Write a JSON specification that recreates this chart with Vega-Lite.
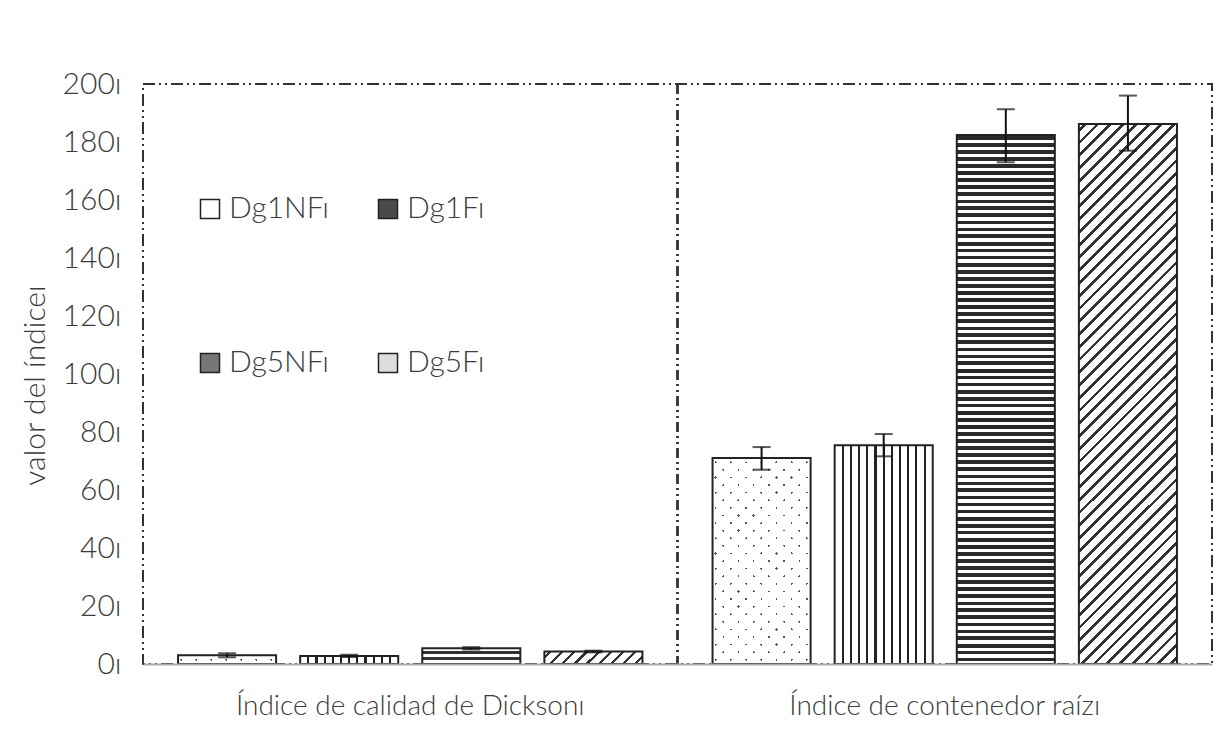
{
"$schema":"https://vega.github.io/schema/vega-lite/v6.json",
"width":1069,"height":580,"autosize":"none",
"padding":{"left":143,"top":84,"right":4,"bottom":68},
"background":"#ffffff",
"config":{"font":"Lato","view":{"stroke":"#333333","strokeWidth":2,"strokeDash":[12,4,2,4,2,4]}},
"data":{"values":[
{"indice":"Índice de calidad de Dickson","grupo":"D","serie":"Dg1NF","valor":3.0,"inf":2.3,"sup":3.7},
{"indice":"Índice de calidad de Dickson","grupo":"D","serie":"Dg1F","valor":2.8,"inf":2.4,"sup":3.2},
{"indice":"Índice de calidad de Dickson","grupo":"D","serie":"Dg5NF","valor":5.4,"inf":5.0,"sup":5.8},
{"indice":"Índice de calidad de Dickson","grupo":"D","serie":"Dg5F","valor":4.3,"inf":4.0,"sup":4.6},
{"indice":"Índice de contenedor raíz","grupo":"R","serie":"Dg1NF","valor":71.0,"inf":67.0,"sup":74.8},
{"indice":"Índice de contenedor raíz","grupo":"R","serie":"Dg1F","valor":75.4,"inf":71.6,"sup":79.3},
{"indice":"Índice de contenedor raíz","grupo":"R","serie":"Dg5NF","valor":182.4,"inf":173.0,"sup":191.3},
{"indice":"Índice de contenedor raíz","grupo":"R","serie":"Dg5F","valor":186.2,"inf":177.0,"sup":196.0}
]},
"layer":[
{"mark":{"type":"rule","stroke":"#333333","strokeWidth":1.5,"strokeDash":[10,4,2,4,2,4]},
 "encoding":{"x":{"datum":"Índice de contenedor raíz","type":"nominal","bandPosition":0}}},
{"encoding":{
  "x":{"field":"indice","type":"nominal","title":null,
       "scale":{"domain":["Índice de calidad de Dickson","Índice de contenedor raíz"],"paddingInner":0,"paddingOuter":0},
       "axis":{"bandPosition":0.5,"zindex":1,"labelAngle":0,"labelAlign":"center","ticks":false,"domainColor":"#aaaaaa","domainWidth":2,"labelFontSize":28,"labelColor":"#3c3c3c","labelFontWeight":300,"labelPadding":42,"labelExpr":"datum.label + 'ı'","labelLimit":0}},
  "xOffset":{"field":"serie","type":"nominal","scale":{"domain":["Dg1NF","Dg1F","Dg5NF","Dg5F"],"paddingInner":0.197,"paddingOuter":0.287}},
  "y":{"field":"valor","type":"quantitative","title":"valor del índiceı",
       "scale":{"domain":[0,200],"nice":false},
       "axis":{"values":[0,20,40,60,80,100,120,140,160,180,200],"ticks":false,"domain":false,"grid":false,"labelFontSize":30,"labelColor":"#3c3c3c","labelFontWeight":300,"labelPadding":22,"labelExpr":"datum.label + 'ı'","titleFontSize":30,"titleFontWeight":300,"titleColor":"#3c3c3c","titlePadding":12,"titleY":301}}
 },
 "layer":[
  {"mark":{"type":"bar","opacity":0},
   "encoding":{"fill":{"field":"serie","type":"nominal","scale":{"domain":["Dg1NF","Dg1F","Dg5NF","Dg5F"],"range":["#ffffff","#4a4a4a","#777777","#dddddd"]},
     "legend":{"title":null,"orient":"none","direction":"horizontal","legendX":52,"legendY":110,"columns":2,"columnPadding":43,"rowPadding":124,"gridAlign":"all","symbolType":"square","symbolSize":361,"symbolStrokeColor":"#222222","symbolStrokeWidth":1.5,"symbolOpacity":1,"labelFontSize":30,"labelFontWeight":300,"labelColor":"#3c3c3c","labelOffset":4,"labelExpr":"datum.label + 'ı'"}}}},
  {"transform":[{"filter":"datum.serie === 'Dg1NF' && datum.grupo === 'D'"}],
   "mark":{"type":"bar","fill":{"gradient":"linear","x1":0,"y1":0,"x2":1.083,"y2":0.0994,"stops":[
    {"offset":0,"color":"#fff"},
    {"offset":0.06,"color":"#fff"},{"offset":0.06,"color":"#555"},{"offset":0.083,"color":"#555"},{"offset":0.083,"color":"#fff"},
    {"offset":0.20,"color":"#fff"},{"offset":0.20,"color":"#555"},{"offset":0.223,"color":"#555"},{"offset":0.223,"color":"#fff"},
    {"offset":0.34,"color":"#fff"},{"offset":0.34,"color":"#555"},{"offset":0.363,"color":"#555"},{"offset":0.363,"color":"#fff"},
    {"offset":0.48,"color":"#fff"},{"offset":0.48,"color":"#555"},{"offset":0.503,"color":"#555"},{"offset":0.503,"color":"#fff"},
    {"offset":0.62,"color":"#fff"},{"offset":0.62,"color":"#555"},{"offset":0.643,"color":"#555"},{"offset":0.643,"color":"#fff"},
    {"offset":0.76,"color":"#fff"},{"offset":0.76,"color":"#555"},{"offset":0.783,"color":"#555"},{"offset":0.783,"color":"#fff"},
    {"offset":0.90,"color":"#fff"},{"offset":0.90,"color":"#555"},{"offset":0.923,"color":"#555"},{"offset":0.923,"color":"#fff"},
    {"offset":1,"color":"#fff"}]}}},
  {"transform":[{"filter":"datum.serie === 'Dg1NF' && datum.grupo === 'D'"}],
   "mark":{"type":"bar","stroke":"#222222","strokeWidth":2,"fill":{"gradient":"linear","x1":0,"y1":1,"x2":1.083,"y2":0.9006,"stops":[
    {"offset":0,"color":"#fff"},
    {"offset":0.06,"color":"#fff"},{"offset":0.06,"color":"rgba(255,255,255,0)"},{"offset":0.083,"color":"rgba(255,255,255,0)"},{"offset":0.083,"color":"#fff"},
    {"offset":0.20,"color":"#fff"},{"offset":0.20,"color":"rgba(255,255,255,0)"},{"offset":0.223,"color":"rgba(255,255,255,0)"},{"offset":0.223,"color":"#fff"},
    {"offset":0.34,"color":"#fff"},{"offset":0.34,"color":"rgba(255,255,255,0)"},{"offset":0.363,"color":"rgba(255,255,255,0)"},{"offset":0.363,"color":"#fff"},
    {"offset":0.48,"color":"#fff"},{"offset":0.48,"color":"rgba(255,255,255,0)"},{"offset":0.503,"color":"rgba(255,255,255,0)"},{"offset":0.503,"color":"#fff"},
    {"offset":0.62,"color":"#fff"},{"offset":0.62,"color":"rgba(255,255,255,0)"},{"offset":0.643,"color":"rgba(255,255,255,0)"},{"offset":0.643,"color":"#fff"},
    {"offset":0.76,"color":"#fff"},{"offset":0.76,"color":"rgba(255,255,255,0)"},{"offset":0.783,"color":"rgba(255,255,255,0)"},{"offset":0.783,"color":"#fff"},
    {"offset":0.90,"color":"#fff"},{"offset":0.90,"color":"rgba(255,255,255,0)"},{"offset":0.923,"color":"rgba(255,255,255,0)"},{"offset":0.923,"color":"#fff"},
    {"offset":1,"color":"#fff"}]}}},
  {"transform":[{"filter":"datum.serie === 'Dg1NF' && datum.grupo === 'R'"}],
   "mark":{"type":"bar","fill":{"gradient":"linear","x1":0,"y1":0,"x2":0.5725,"y2":1.2034,"stops":[
    {"offset":0,"color":"#fff"},
    {"offset":0.02,"color":"#fff"},{"offset":0.02,"color":"#555"},{"offset":0.028,"color":"#555"},{"offset":0.028,"color":"#fff"},
    {"offset":0.07,"color":"#fff"},{"offset":0.07,"color":"#555"},{"offset":0.078,"color":"#555"},{"offset":0.078,"color":"#fff"},
    {"offset":0.12,"color":"#fff"},{"offset":0.12,"color":"#555"},{"offset":0.128,"color":"#555"},{"offset":0.128,"color":"#fff"},
    {"offset":0.17,"color":"#fff"},{"offset":0.17,"color":"#555"},{"offset":0.178,"color":"#555"},{"offset":0.178,"color":"#fff"},
    {"offset":0.22,"color":"#fff"},{"offset":0.22,"color":"#555"},{"offset":0.228,"color":"#555"},{"offset":0.228,"color":"#fff"},
    {"offset":0.27,"color":"#fff"},{"offset":0.27,"color":"#555"},{"offset":0.278,"color":"#555"},{"offset":0.278,"color":"#fff"},
    {"offset":0.32,"color":"#fff"},{"offset":0.32,"color":"#555"},{"offset":0.328,"color":"#555"},{"offset":0.328,"color":"#fff"},
    {"offset":0.37,"color":"#fff"},{"offset":0.37,"color":"#555"},{"offset":0.378,"color":"#555"},{"offset":0.378,"color":"#fff"},
    {"offset":0.42,"color":"#fff"},{"offset":0.42,"color":"#555"},{"offset":0.428,"color":"#555"},{"offset":0.428,"color":"#fff"},
    {"offset":0.47,"color":"#fff"},{"offset":0.47,"color":"#555"},{"offset":0.478,"color":"#555"},{"offset":0.478,"color":"#fff"},
    {"offset":0.52,"color":"#fff"},{"offset":0.52,"color":"#555"},{"offset":0.528,"color":"#555"},{"offset":0.528,"color":"#fff"},
    {"offset":0.57,"color":"#fff"},{"offset":0.57,"color":"#555"},{"offset":0.578,"color":"#555"},{"offset":0.578,"color":"#fff"},
    {"offset":0.62,"color":"#fff"},{"offset":0.62,"color":"#555"},{"offset":0.628,"color":"#555"},{"offset":0.628,"color":"#fff"},
    {"offset":0.67,"color":"#fff"},{"offset":0.67,"color":"#555"},{"offset":0.678,"color":"#555"},{"offset":0.678,"color":"#fff"},
    {"offset":0.72,"color":"#fff"},{"offset":0.72,"color":"#555"},{"offset":0.728,"color":"#555"},{"offset":0.728,"color":"#fff"},
    {"offset":0.77,"color":"#fff"},{"offset":0.77,"color":"#555"},{"offset":0.778,"color":"#555"},{"offset":0.778,"color":"#fff"},
    {"offset":0.82,"color":"#fff"},{"offset":0.82,"color":"#555"},{"offset":0.828,"color":"#555"},{"offset":0.828,"color":"#fff"},
    {"offset":0.87,"color":"#fff"},{"offset":0.87,"color":"#555"},{"offset":0.878,"color":"#555"},{"offset":0.878,"color":"#fff"},
    {"offset":0.92,"color":"#fff"},{"offset":0.92,"color":"#555"},{"offset":0.928,"color":"#555"},{"offset":0.928,"color":"#fff"},
    {"offset":0.97,"color":"#fff"},{"offset":0.97,"color":"#555"},{"offset":0.978,"color":"#555"},{"offset":0.978,"color":"#fff"},
    {"offset":1,"color":"#fff"}]}}},
  {"transform":[{"filter":"datum.serie === 'Dg1NF' && datum.grupo === 'R'"}],
   "mark":{"type":"bar","stroke":"#222222","strokeWidth":2,"fill":{"gradient":"linear","x1":0,"y1":1,"x2":0.5725,"y2":-0.2034,"stops":[
    {"offset":0,"color":"#fff"},
    {"offset":0.02,"color":"#fff"},{"offset":0.02,"color":"rgba(255,255,255,0)"},{"offset":0.028,"color":"rgba(255,255,255,0)"},{"offset":0.028,"color":"#fff"},
    {"offset":0.07,"color":"#fff"},{"offset":0.07,"color":"rgba(255,255,255,0)"},{"offset":0.078,"color":"rgba(255,255,255,0)"},{"offset":0.078,"color":"#fff"},
    {"offset":0.12,"color":"#fff"},{"offset":0.12,"color":"rgba(255,255,255,0)"},{"offset":0.128,"color":"rgba(255,255,255,0)"},{"offset":0.128,"color":"#fff"},
    {"offset":0.17,"color":"#fff"},{"offset":0.17,"color":"rgba(255,255,255,0)"},{"offset":0.178,"color":"rgba(255,255,255,0)"},{"offset":0.178,"color":"#fff"},
    {"offset":0.22,"color":"#fff"},{"offset":0.22,"color":"rgba(255,255,255,0)"},{"offset":0.228,"color":"rgba(255,255,255,0)"},{"offset":0.228,"color":"#fff"},
    {"offset":0.27,"color":"#fff"},{"offset":0.27,"color":"rgba(255,255,255,0)"},{"offset":0.278,"color":"rgba(255,255,255,0)"},{"offset":0.278,"color":"#fff"},
    {"offset":0.32,"color":"#fff"},{"offset":0.32,"color":"rgba(255,255,255,0)"},{"offset":0.328,"color":"rgba(255,255,255,0)"},{"offset":0.328,"color":"#fff"},
    {"offset":0.37,"color":"#fff"},{"offset":0.37,"color":"rgba(255,255,255,0)"},{"offset":0.378,"color":"rgba(255,255,255,0)"},{"offset":0.378,"color":"#fff"},
    {"offset":0.42,"color":"#fff"},{"offset":0.42,"color":"rgba(255,255,255,0)"},{"offset":0.428,"color":"rgba(255,255,255,0)"},{"offset":0.428,"color":"#fff"},
    {"offset":0.47,"color":"#fff"},{"offset":0.47,"color":"rgba(255,255,255,0)"},{"offset":0.478,"color":"rgba(255,255,255,0)"},{"offset":0.478,"color":"#fff"},
    {"offset":0.52,"color":"#fff"},{"offset":0.52,"color":"rgba(255,255,255,0)"},{"offset":0.528,"color":"rgba(255,255,255,0)"},{"offset":0.528,"color":"#fff"},
    {"offset":0.57,"color":"#fff"},{"offset":0.57,"color":"rgba(255,255,255,0)"},{"offset":0.578,"color":"rgba(255,255,255,0)"},{"offset":0.578,"color":"#fff"},
    {"offset":0.62,"color":"#fff"},{"offset":0.62,"color":"rgba(255,255,255,0)"},{"offset":0.628,"color":"rgba(255,255,255,0)"},{"offset":0.628,"color":"#fff"},
    {"offset":0.67,"color":"#fff"},{"offset":0.67,"color":"rgba(255,255,255,0)"},{"offset":0.678,"color":"rgba(255,255,255,0)"},{"offset":0.678,"color":"#fff"},
    {"offset":0.72,"color":"#fff"},{"offset":0.72,"color":"rgba(255,255,255,0)"},{"offset":0.728,"color":"rgba(255,255,255,0)"},{"offset":0.728,"color":"#fff"},
    {"offset":0.77,"color":"#fff"},{"offset":0.77,"color":"rgba(255,255,255,0)"},{"offset":0.778,"color":"rgba(255,255,255,0)"},{"offset":0.778,"color":"#fff"},
    {"offset":0.82,"color":"#fff"},{"offset":0.82,"color":"rgba(255,255,255,0)"},{"offset":0.828,"color":"rgba(255,255,255,0)"},{"offset":0.828,"color":"#fff"},
    {"offset":0.87,"color":"#fff"},{"offset":0.87,"color":"rgba(255,255,255,0)"},{"offset":0.878,"color":"rgba(255,255,255,0)"},{"offset":0.878,"color":"#fff"},
    {"offset":0.92,"color":"#fff"},{"offset":0.92,"color":"rgba(255,255,255,0)"},{"offset":0.928,"color":"rgba(255,255,255,0)"},{"offset":0.928,"color":"#fff"},
    {"offset":0.97,"color":"#fff"},{"offset":0.97,"color":"rgba(255,255,255,0)"},{"offset":0.978,"color":"rgba(255,255,255,0)"},{"offset":0.978,"color":"#fff"},
    {"offset":1,"color":"#fff"}]}}},
  {"transform":[{"filter":"datum.serie === 'Dg1F'"}],
   "mark":{"type":"bar","stroke":"#222222","strokeWidth":2,"fill":{"gradient":"linear","x1":0,"y1":0,"x2":1,"y2":0,"stops":[
    {"offset":0,"color":"#fff"},
    {"offset":0.073,"color":"#fff"},{"offset":0.073,"color":"#222"},{"offset":0.094,"color":"#222"},{"offset":0.094,"color":"#fff"},
    {"offset":0.156,"color":"#fff"},{"offset":0.156,"color":"#222"},{"offset":0.177,"color":"#222"},{"offset":0.177,"color":"#fff"},
    {"offset":0.240,"color":"#fff"},{"offset":0.240,"color":"#222"},{"offset":0.260,"color":"#222"},{"offset":0.260,"color":"#fff"},
    {"offset":0.323,"color":"#fff"},{"offset":0.323,"color":"#222"},{"offset":0.344,"color":"#222"},{"offset":0.344,"color":"#fff"},
    {"offset":0.406,"color":"#fff"},{"offset":0.406,"color":"#222"},{"offset":0.427,"color":"#222"},{"offset":0.427,"color":"#fff"},
    {"offset":0.490,"color":"#fff"},{"offset":0.490,"color":"#222"},{"offset":0.510,"color":"#222"},{"offset":0.510,"color":"#fff"},
    {"offset":0.573,"color":"#fff"},{"offset":0.573,"color":"#222"},{"offset":0.594,"color":"#222"},{"offset":0.594,"color":"#fff"},
    {"offset":0.656,"color":"#fff"},{"offset":0.656,"color":"#222"},{"offset":0.677,"color":"#222"},{"offset":0.677,"color":"#fff"},
    {"offset":0.740,"color":"#fff"},{"offset":0.740,"color":"#222"},{"offset":0.760,"color":"#222"},{"offset":0.760,"color":"#fff"},
    {"offset":0.823,"color":"#fff"},{"offset":0.823,"color":"#222"},{"offset":0.844,"color":"#222"},{"offset":0.844,"color":"#fff"},
    {"offset":0.906,"color":"#fff"},{"offset":0.906,"color":"#222"},{"offset":0.927,"color":"#222"},{"offset":0.927,"color":"#fff"},
    {"offset":1,"color":"#fff"}]}}},
  {"transform":[{"filter":"datum.serie === 'Dg5NF' && datum.grupo === 'D'"}],
   "mark":{"type":"bar","stroke":"#222222","strokeWidth":2,"fill":{"gradient":"linear","x1":0,"y1":0,"x2":0,"y2":1,"stops":[
    {"offset":0,"color":"#fff"},
    {"offset":0.15,"color":"#fff"},{"offset":0.15,"color":"#333"},{"offset":0.35,"color":"#333"},{"offset":0.35,"color":"#fff"},
    {"offset":0.55,"color":"#fff"},{"offset":0.55,"color":"#333"},{"offset":0.75,"color":"#333"},{"offset":0.75,"color":"#fff"},
    {"offset":1,"color":"#fff"}]}}},
  {"transform":[{"filter":"datum.serie === 'Dg5NF' && datum.grupo === 'R'"}],
   "mark":{"type":"bar","stroke":"#222222","strokeWidth":2,"fill":{"gradient":"linear","x1":0,"y1":0,"x2":0,"y2":1,"stops":[
    {"offset":0,"color":"#fff"},
    {"offset":0.002,"color":"#fff"},{"offset":0.002,"color":"#2a2a2a"},{"offset":0.009,"color":"#2a2a2a"},{"offset":0.009,"color":"#fff"},
    {"offset":0.015,"color":"#fff"},{"offset":0.015,"color":"#2a2a2a"},{"offset":0.022,"color":"#2a2a2a"},{"offset":0.022,"color":"#fff"},
    {"offset":0.028,"color":"#fff"},{"offset":0.028,"color":"#2a2a2a"},{"offset":0.035,"color":"#2a2a2a"},{"offset":0.035,"color":"#fff"},
    {"offset":0.042,"color":"#fff"},{"offset":0.042,"color":"#2a2a2a"},{"offset":0.049,"color":"#2a2a2a"},{"offset":0.049,"color":"#fff"},
    {"offset":0.055,"color":"#fff"},{"offset":0.055,"color":"#2a2a2a"},{"offset":0.062,"color":"#2a2a2a"},{"offset":0.062,"color":"#fff"},
    {"offset":0.068,"color":"#fff"},{"offset":0.068,"color":"#2a2a2a"},{"offset":0.075,"color":"#2a2a2a"},{"offset":0.075,"color":"#fff"},
    {"offset":0.082,"color":"#fff"},{"offset":0.082,"color":"#2a2a2a"},{"offset":0.089,"color":"#2a2a2a"},{"offset":0.089,"color":"#fff"},
    {"offset":0.095,"color":"#fff"},{"offset":0.095,"color":"#2a2a2a"},{"offset":0.102,"color":"#2a2a2a"},{"offset":0.102,"color":"#fff"},
    {"offset":0.108,"color":"#fff"},{"offset":0.108,"color":"#2a2a2a"},{"offset":0.115,"color":"#2a2a2a"},{"offset":0.115,"color":"#fff"},
    {"offset":0.122,"color":"#fff"},{"offset":0.122,"color":"#2a2a2a"},{"offset":0.129,"color":"#2a2a2a"},{"offset":0.129,"color":"#fff"},
    {"offset":0.135,"color":"#fff"},{"offset":0.135,"color":"#2a2a2a"},{"offset":0.142,"color":"#2a2a2a"},{"offset":0.142,"color":"#fff"},
    {"offset":0.148,"color":"#fff"},{"offset":0.148,"color":"#2a2a2a"},{"offset":0.155,"color":"#2a2a2a"},{"offset":0.155,"color":"#fff"},
    {"offset":0.162,"color":"#fff"},{"offset":0.162,"color":"#2a2a2a"},{"offset":0.169,"color":"#2a2a2a"},{"offset":0.169,"color":"#fff"},
    {"offset":0.175,"color":"#fff"},{"offset":0.175,"color":"#2a2a2a"},{"offset":0.182,"color":"#2a2a2a"},{"offset":0.182,"color":"#fff"},
    {"offset":0.188,"color":"#fff"},{"offset":0.188,"color":"#2a2a2a"},{"offset":0.195,"color":"#2a2a2a"},{"offset":0.195,"color":"#fff"},
    {"offset":0.202,"color":"#fff"},{"offset":0.202,"color":"#2a2a2a"},{"offset":0.209,"color":"#2a2a2a"},{"offset":0.209,"color":"#fff"},
    {"offset":0.215,"color":"#fff"},{"offset":0.215,"color":"#2a2a2a"},{"offset":0.222,"color":"#2a2a2a"},{"offset":0.222,"color":"#fff"},
    {"offset":0.228,"color":"#fff"},{"offset":0.228,"color":"#2a2a2a"},{"offset":0.235,"color":"#2a2a2a"},{"offset":0.235,"color":"#fff"},
    {"offset":0.242,"color":"#fff"},{"offset":0.242,"color":"#2a2a2a"},{"offset":0.249,"color":"#2a2a2a"},{"offset":0.249,"color":"#fff"},
    {"offset":0.255,"color":"#fff"},{"offset":0.255,"color":"#2a2a2a"},{"offset":0.262,"color":"#2a2a2a"},{"offset":0.262,"color":"#fff"},
    {"offset":0.268,"color":"#fff"},{"offset":0.268,"color":"#2a2a2a"},{"offset":0.275,"color":"#2a2a2a"},{"offset":0.275,"color":"#fff"},
    {"offset":0.282,"color":"#fff"},{"offset":0.282,"color":"#2a2a2a"},{"offset":0.289,"color":"#2a2a2a"},{"offset":0.289,"color":"#fff"},
    {"offset":0.295,"color":"#fff"},{"offset":0.295,"color":"#2a2a2a"},{"offset":0.302,"color":"#2a2a2a"},{"offset":0.302,"color":"#fff"},
    {"offset":0.308,"color":"#fff"},{"offset":0.308,"color":"#2a2a2a"},{"offset":0.315,"color":"#2a2a2a"},{"offset":0.315,"color":"#fff"},
    {"offset":0.322,"color":"#fff"},{"offset":0.322,"color":"#2a2a2a"},{"offset":0.329,"color":"#2a2a2a"},{"offset":0.329,"color":"#fff"},
    {"offset":0.335,"color":"#fff"},{"offset":0.335,"color":"#2a2a2a"},{"offset":0.342,"color":"#2a2a2a"},{"offset":0.342,"color":"#fff"},
    {"offset":0.348,"color":"#fff"},{"offset":0.348,"color":"#2a2a2a"},{"offset":0.355,"color":"#2a2a2a"},{"offset":0.355,"color":"#fff"},
    {"offset":0.362,"color":"#fff"},{"offset":0.362,"color":"#2a2a2a"},{"offset":0.369,"color":"#2a2a2a"},{"offset":0.369,"color":"#fff"},
    {"offset":0.375,"color":"#fff"},{"offset":0.375,"color":"#2a2a2a"},{"offset":0.382,"color":"#2a2a2a"},{"offset":0.382,"color":"#fff"},
    {"offset":0.388,"color":"#fff"},{"offset":0.388,"color":"#2a2a2a"},{"offset":0.395,"color":"#2a2a2a"},{"offset":0.395,"color":"#fff"},
    {"offset":0.402,"color":"#fff"},{"offset":0.402,"color":"#2a2a2a"},{"offset":0.409,"color":"#2a2a2a"},{"offset":0.409,"color":"#fff"},
    {"offset":0.415,"color":"#fff"},{"offset":0.415,"color":"#2a2a2a"},{"offset":0.422,"color":"#2a2a2a"},{"offset":0.422,"color":"#fff"},
    {"offset":0.428,"color":"#fff"},{"offset":0.428,"color":"#2a2a2a"},{"offset":0.435,"color":"#2a2a2a"},{"offset":0.435,"color":"#fff"},
    {"offset":0.442,"color":"#fff"},{"offset":0.442,"color":"#2a2a2a"},{"offset":0.449,"color":"#2a2a2a"},{"offset":0.449,"color":"#fff"},
    {"offset":0.455,"color":"#fff"},{"offset":0.455,"color":"#2a2a2a"},{"offset":0.462,"color":"#2a2a2a"},{"offset":0.462,"color":"#fff"},
    {"offset":0.468,"color":"#fff"},{"offset":0.468,"color":"#2a2a2a"},{"offset":0.475,"color":"#2a2a2a"},{"offset":0.475,"color":"#fff"},
    {"offset":0.482,"color":"#fff"},{"offset":0.482,"color":"#2a2a2a"},{"offset":0.489,"color":"#2a2a2a"},{"offset":0.489,"color":"#fff"},
    {"offset":0.495,"color":"#fff"},{"offset":0.495,"color":"#2a2a2a"},{"offset":0.502,"color":"#2a2a2a"},{"offset":0.502,"color":"#fff"},
    {"offset":0.508,"color":"#fff"},{"offset":0.508,"color":"#2a2a2a"},{"offset":0.515,"color":"#2a2a2a"},{"offset":0.515,"color":"#fff"},
    {"offset":0.522,"color":"#fff"},{"offset":0.522,"color":"#2a2a2a"},{"offset":0.529,"color":"#2a2a2a"},{"offset":0.529,"color":"#fff"},
    {"offset":0.535,"color":"#fff"},{"offset":0.535,"color":"#2a2a2a"},{"offset":0.542,"color":"#2a2a2a"},{"offset":0.542,"color":"#fff"},
    {"offset":0.548,"color":"#fff"},{"offset":0.548,"color":"#2a2a2a"},{"offset":0.555,"color":"#2a2a2a"},{"offset":0.555,"color":"#fff"},
    {"offset":0.562,"color":"#fff"},{"offset":0.562,"color":"#2a2a2a"},{"offset":0.569,"color":"#2a2a2a"},{"offset":0.569,"color":"#fff"},
    {"offset":0.575,"color":"#fff"},{"offset":0.575,"color":"#2a2a2a"},{"offset":0.582,"color":"#2a2a2a"},{"offset":0.582,"color":"#fff"},
    {"offset":0.588,"color":"#fff"},{"offset":0.588,"color":"#2a2a2a"},{"offset":0.595,"color":"#2a2a2a"},{"offset":0.595,"color":"#fff"},
    {"offset":0.602,"color":"#fff"},{"offset":0.602,"color":"#2a2a2a"},{"offset":0.609,"color":"#2a2a2a"},{"offset":0.609,"color":"#fff"},
    {"offset":0.615,"color":"#fff"},{"offset":0.615,"color":"#2a2a2a"},{"offset":0.622,"color":"#2a2a2a"},{"offset":0.622,"color":"#fff"},
    {"offset":0.628,"color":"#fff"},{"offset":0.628,"color":"#2a2a2a"},{"offset":0.635,"color":"#2a2a2a"},{"offset":0.635,"color":"#fff"},
    {"offset":0.642,"color":"#fff"},{"offset":0.642,"color":"#2a2a2a"},{"offset":0.649,"color":"#2a2a2a"},{"offset":0.649,"color":"#fff"},
    {"offset":0.655,"color":"#fff"},{"offset":0.655,"color":"#2a2a2a"},{"offset":0.662,"color":"#2a2a2a"},{"offset":0.662,"color":"#fff"},
    {"offset":0.668,"color":"#fff"},{"offset":0.668,"color":"#2a2a2a"},{"offset":0.675,"color":"#2a2a2a"},{"offset":0.675,"color":"#fff"},
    {"offset":0.682,"color":"#fff"},{"offset":0.682,"color":"#2a2a2a"},{"offset":0.689,"color":"#2a2a2a"},{"offset":0.689,"color":"#fff"},
    {"offset":0.695,"color":"#fff"},{"offset":0.695,"color":"#2a2a2a"},{"offset":0.702,"color":"#2a2a2a"},{"offset":0.702,"color":"#fff"},
    {"offset":0.708,"color":"#fff"},{"offset":0.708,"color":"#2a2a2a"},{"offset":0.715,"color":"#2a2a2a"},{"offset":0.715,"color":"#fff"},
    {"offset":0.722,"color":"#fff"},{"offset":0.722,"color":"#2a2a2a"},{"offset":0.729,"color":"#2a2a2a"},{"offset":0.729,"color":"#fff"},
    {"offset":0.735,"color":"#fff"},{"offset":0.735,"color":"#2a2a2a"},{"offset":0.742,"color":"#2a2a2a"},{"offset":0.742,"color":"#fff"},
    {"offset":0.748,"color":"#fff"},{"offset":0.748,"color":"#2a2a2a"},{"offset":0.755,"color":"#2a2a2a"},{"offset":0.755,"color":"#fff"},
    {"offset":0.762,"color":"#fff"},{"offset":0.762,"color":"#2a2a2a"},{"offset":0.769,"color":"#2a2a2a"},{"offset":0.769,"color":"#fff"},
    {"offset":0.775,"color":"#fff"},{"offset":0.775,"color":"#2a2a2a"},{"offset":0.782,"color":"#2a2a2a"},{"offset":0.782,"color":"#fff"},
    {"offset":0.788,"color":"#fff"},{"offset":0.788,"color":"#2a2a2a"},{"offset":0.795,"color":"#2a2a2a"},{"offset":0.795,"color":"#fff"},
    {"offset":0.802,"color":"#fff"},{"offset":0.802,"color":"#2a2a2a"},{"offset":0.809,"color":"#2a2a2a"},{"offset":0.809,"color":"#fff"},
    {"offset":0.815,"color":"#fff"},{"offset":0.815,"color":"#2a2a2a"},{"offset":0.822,"color":"#2a2a2a"},{"offset":0.822,"color":"#fff"},
    {"offset":0.828,"color":"#fff"},{"offset":0.828,"color":"#2a2a2a"},{"offset":0.835,"color":"#2a2a2a"},{"offset":0.835,"color":"#fff"},
    {"offset":0.842,"color":"#fff"},{"offset":0.842,"color":"#2a2a2a"},{"offset":0.849,"color":"#2a2a2a"},{"offset":0.849,"color":"#fff"},
    {"offset":0.855,"color":"#fff"},{"offset":0.855,"color":"#2a2a2a"},{"offset":0.862,"color":"#2a2a2a"},{"offset":0.862,"color":"#fff"},
    {"offset":0.868,"color":"#fff"},{"offset":0.868,"color":"#2a2a2a"},{"offset":0.875,"color":"#2a2a2a"},{"offset":0.875,"color":"#fff"},
    {"offset":0.882,"color":"#fff"},{"offset":0.882,"color":"#2a2a2a"},{"offset":0.889,"color":"#2a2a2a"},{"offset":0.889,"color":"#fff"},
    {"offset":0.895,"color":"#fff"},{"offset":0.895,"color":"#2a2a2a"},{"offset":0.902,"color":"#2a2a2a"},{"offset":0.902,"color":"#fff"},
    {"offset":0.908,"color":"#fff"},{"offset":0.908,"color":"#2a2a2a"},{"offset":0.915,"color":"#2a2a2a"},{"offset":0.915,"color":"#fff"},
    {"offset":0.922,"color":"#fff"},{"offset":0.922,"color":"#2a2a2a"},{"offset":0.929,"color":"#2a2a2a"},{"offset":0.929,"color":"#fff"},
    {"offset":0.935,"color":"#fff"},{"offset":0.935,"color":"#2a2a2a"},{"offset":0.942,"color":"#2a2a2a"},{"offset":0.942,"color":"#fff"},
    {"offset":0.948,"color":"#fff"},{"offset":0.948,"color":"#2a2a2a"},{"offset":0.955,"color":"#2a2a2a"},{"offset":0.955,"color":"#fff"},
    {"offset":0.962,"color":"#fff"},{"offset":0.962,"color":"#2a2a2a"},{"offset":0.969,"color":"#2a2a2a"},{"offset":0.969,"color":"#fff"},
    {"offset":0.975,"color":"#fff"},{"offset":0.975,"color":"#2a2a2a"},{"offset":0.982,"color":"#2a2a2a"},{"offset":0.982,"color":"#fff"},
    {"offset":0.988,"color":"#fff"},{"offset":0.988,"color":"#2a2a2a"},{"offset":0.995,"color":"#2a2a2a"},{"offset":0.995,"color":"#fff"},
    {"offset":1,"color":"#fff"}]}}},
  {"transform":[{"filter":"datum.serie === 'Dg5F' && datum.grupo === 'D'"}],
   "mark":{"type":"bar","stroke":"#222222","strokeWidth":2,"fill":{"gradient":"linear","x1":0,"y1":0,"x2":1.110,"y2":0.1415,"stops":[
    {"offset":0,"color":"#fff"},
    {"offset":0.04,"color":"#fff"},{"offset":0.04,"color":"#333"},{"offset":0.07,"color":"#333"},{"offset":0.07,"color":"#fff"},
    {"offset":0.15,"color":"#fff"},{"offset":0.15,"color":"#333"},{"offset":0.18,"color":"#333"},{"offset":0.18,"color":"#fff"},
    {"offset":0.26,"color":"#fff"},{"offset":0.26,"color":"#333"},{"offset":0.29,"color":"#333"},{"offset":0.29,"color":"#fff"},
    {"offset":0.37,"color":"#fff"},{"offset":0.37,"color":"#333"},{"offset":0.40,"color":"#333"},{"offset":0.40,"color":"#fff"},
    {"offset":0.48,"color":"#fff"},{"offset":0.48,"color":"#333"},{"offset":0.51,"color":"#333"},{"offset":0.51,"color":"#fff"},
    {"offset":0.59,"color":"#fff"},{"offset":0.59,"color":"#333"},{"offset":0.62,"color":"#333"},{"offset":0.62,"color":"#fff"},
    {"offset":0.70,"color":"#fff"},{"offset":0.70,"color":"#333"},{"offset":0.73,"color":"#333"},{"offset":0.73,"color":"#fff"},
    {"offset":0.81,"color":"#fff"},{"offset":0.81,"color":"#333"},{"offset":0.84,"color":"#333"},{"offset":0.84,"color":"#fff"},
    {"offset":0.92,"color":"#fff"},{"offset":0.92,"color":"#333"},{"offset":0.95,"color":"#333"},{"offset":0.95,"color":"#fff"},
    {"offset":1,"color":"#fff"}]}}},
  {"transform":[{"filter":"datum.serie === 'Dg5F' && datum.grupo === 'R'"}],
   "mark":{"type":"bar","stroke":"#222222","strokeWidth":2,"fill":{"gradient":"linear","x1":0,"y1":0,"x2":0.2076,"y2":1.1438,"stops":[
    {"offset":0,"color":"#fff"},
    {"offset":0.007,"color":"#fff"},{"offset":0.007,"color":"#333"},{"offset":0.013,"color":"#333"},{"offset":0.013,"color":"#fff"},
    {"offset":0.027,"color":"#fff"},{"offset":0.027,"color":"#333"},{"offset":0.033,"color":"#333"},{"offset":0.033,"color":"#fff"},
    {"offset":0.047,"color":"#fff"},{"offset":0.047,"color":"#333"},{"offset":0.053,"color":"#333"},{"offset":0.053,"color":"#fff"},
    {"offset":0.067,"color":"#fff"},{"offset":0.067,"color":"#333"},{"offset":0.073,"color":"#333"},{"offset":0.073,"color":"#fff"},
    {"offset":0.087,"color":"#fff"},{"offset":0.087,"color":"#333"},{"offset":0.093,"color":"#333"},{"offset":0.093,"color":"#fff"},
    {"offset":0.107,"color":"#fff"},{"offset":0.107,"color":"#333"},{"offset":0.113,"color":"#333"},{"offset":0.113,"color":"#fff"},
    {"offset":0.127,"color":"#fff"},{"offset":0.127,"color":"#333"},{"offset":0.133,"color":"#333"},{"offset":0.133,"color":"#fff"},
    {"offset":0.147,"color":"#fff"},{"offset":0.147,"color":"#333"},{"offset":0.153,"color":"#333"},{"offset":0.153,"color":"#fff"},
    {"offset":0.167,"color":"#fff"},{"offset":0.167,"color":"#333"},{"offset":0.173,"color":"#333"},{"offset":0.173,"color":"#fff"},
    {"offset":0.187,"color":"#fff"},{"offset":0.187,"color":"#333"},{"offset":0.193,"color":"#333"},{"offset":0.193,"color":"#fff"},
    {"offset":0.207,"color":"#fff"},{"offset":0.207,"color":"#333"},{"offset":0.213,"color":"#333"},{"offset":0.213,"color":"#fff"},
    {"offset":0.227,"color":"#fff"},{"offset":0.227,"color":"#333"},{"offset":0.233,"color":"#333"},{"offset":0.233,"color":"#fff"},
    {"offset":0.247,"color":"#fff"},{"offset":0.247,"color":"#333"},{"offset":0.253,"color":"#333"},{"offset":0.253,"color":"#fff"},
    {"offset":0.267,"color":"#fff"},{"offset":0.267,"color":"#333"},{"offset":0.273,"color":"#333"},{"offset":0.273,"color":"#fff"},
    {"offset":0.287,"color":"#fff"},{"offset":0.287,"color":"#333"},{"offset":0.293,"color":"#333"},{"offset":0.293,"color":"#fff"},
    {"offset":0.307,"color":"#fff"},{"offset":0.307,"color":"#333"},{"offset":0.313,"color":"#333"},{"offset":0.313,"color":"#fff"},
    {"offset":0.327,"color":"#fff"},{"offset":0.327,"color":"#333"},{"offset":0.333,"color":"#333"},{"offset":0.333,"color":"#fff"},
    {"offset":0.347,"color":"#fff"},{"offset":0.347,"color":"#333"},{"offset":0.353,"color":"#333"},{"offset":0.353,"color":"#fff"},
    {"offset":0.367,"color":"#fff"},{"offset":0.367,"color":"#333"},{"offset":0.373,"color":"#333"},{"offset":0.373,"color":"#fff"},
    {"offset":0.387,"color":"#fff"},{"offset":0.387,"color":"#333"},{"offset":0.393,"color":"#333"},{"offset":0.393,"color":"#fff"},
    {"offset":0.407,"color":"#fff"},{"offset":0.407,"color":"#333"},{"offset":0.413,"color":"#333"},{"offset":0.413,"color":"#fff"},
    {"offset":0.427,"color":"#fff"},{"offset":0.427,"color":"#333"},{"offset":0.433,"color":"#333"},{"offset":0.433,"color":"#fff"},
    {"offset":0.447,"color":"#fff"},{"offset":0.447,"color":"#333"},{"offset":0.453,"color":"#333"},{"offset":0.453,"color":"#fff"},
    {"offset":0.467,"color":"#fff"},{"offset":0.467,"color":"#333"},{"offset":0.473,"color":"#333"},{"offset":0.473,"color":"#fff"},
    {"offset":0.487,"color":"#fff"},{"offset":0.487,"color":"#333"},{"offset":0.493,"color":"#333"},{"offset":0.493,"color":"#fff"},
    {"offset":0.507,"color":"#fff"},{"offset":0.507,"color":"#333"},{"offset":0.513,"color":"#333"},{"offset":0.513,"color":"#fff"},
    {"offset":0.527,"color":"#fff"},{"offset":0.527,"color":"#333"},{"offset":0.533,"color":"#333"},{"offset":0.533,"color":"#fff"},
    {"offset":0.547,"color":"#fff"},{"offset":0.547,"color":"#333"},{"offset":0.553,"color":"#333"},{"offset":0.553,"color":"#fff"},
    {"offset":0.567,"color":"#fff"},{"offset":0.567,"color":"#333"},{"offset":0.573,"color":"#333"},{"offset":0.573,"color":"#fff"},
    {"offset":0.587,"color":"#fff"},{"offset":0.587,"color":"#333"},{"offset":0.593,"color":"#333"},{"offset":0.593,"color":"#fff"},
    {"offset":0.607,"color":"#fff"},{"offset":0.607,"color":"#333"},{"offset":0.613,"color":"#333"},{"offset":0.613,"color":"#fff"},
    {"offset":0.627,"color":"#fff"},{"offset":0.627,"color":"#333"},{"offset":0.633,"color":"#333"},{"offset":0.633,"color":"#fff"},
    {"offset":0.647,"color":"#fff"},{"offset":0.647,"color":"#333"},{"offset":0.653,"color":"#333"},{"offset":0.653,"color":"#fff"},
    {"offset":0.667,"color":"#fff"},{"offset":0.667,"color":"#333"},{"offset":0.673,"color":"#333"},{"offset":0.673,"color":"#fff"},
    {"offset":0.687,"color":"#fff"},{"offset":0.687,"color":"#333"},{"offset":0.693,"color":"#333"},{"offset":0.693,"color":"#fff"},
    {"offset":0.707,"color":"#fff"},{"offset":0.707,"color":"#333"},{"offset":0.713,"color":"#333"},{"offset":0.713,"color":"#fff"},
    {"offset":0.727,"color":"#fff"},{"offset":0.727,"color":"#333"},{"offset":0.733,"color":"#333"},{"offset":0.733,"color":"#fff"},
    {"offset":0.747,"color":"#fff"},{"offset":0.747,"color":"#333"},{"offset":0.753,"color":"#333"},{"offset":0.753,"color":"#fff"},
    {"offset":0.767,"color":"#fff"},{"offset":0.767,"color":"#333"},{"offset":0.773,"color":"#333"},{"offset":0.773,"color":"#fff"},
    {"offset":0.787,"color":"#fff"},{"offset":0.787,"color":"#333"},{"offset":0.793,"color":"#333"},{"offset":0.793,"color":"#fff"},
    {"offset":0.807,"color":"#fff"},{"offset":0.807,"color":"#333"},{"offset":0.813,"color":"#333"},{"offset":0.813,"color":"#fff"},
    {"offset":0.827,"color":"#fff"},{"offset":0.827,"color":"#333"},{"offset":0.833,"color":"#333"},{"offset":0.833,"color":"#fff"},
    {"offset":0.847,"color":"#fff"},{"offset":0.847,"color":"#333"},{"offset":0.853,"color":"#333"},{"offset":0.853,"color":"#fff"},
    {"offset":0.867,"color":"#fff"},{"offset":0.867,"color":"#333"},{"offset":0.873,"color":"#333"},{"offset":0.873,"color":"#fff"},
    {"offset":0.887,"color":"#fff"},{"offset":0.887,"color":"#333"},{"offset":0.893,"color":"#333"},{"offset":0.893,"color":"#fff"},
    {"offset":0.907,"color":"#fff"},{"offset":0.907,"color":"#333"},{"offset":0.913,"color":"#333"},{"offset":0.913,"color":"#fff"},
    {"offset":0.927,"color":"#fff"},{"offset":0.927,"color":"#333"},{"offset":0.933,"color":"#333"},{"offset":0.933,"color":"#fff"},
    {"offset":0.947,"color":"#fff"},{"offset":0.947,"color":"#333"},{"offset":0.953,"color":"#333"},{"offset":0.953,"color":"#fff"},
    {"offset":0.967,"color":"#fff"},{"offset":0.967,"color":"#333"},{"offset":0.973,"color":"#333"},{"offset":0.973,"color":"#fff"},
    {"offset":0.987,"color":"#fff"},{"offset":0.987,"color":"#333"},{"offset":0.993,"color":"#333"},{"offset":0.993,"color":"#fff"},
    {"offset":1,"color":"#fff"}]}}},
  {"mark":{"type":"rule","color":"#111111","strokeWidth":2},
   "encoding":{"y":{"field":"inf","type":"quantitative","title":"valor del índiceı"},"y2":{"field":"sup"}}},
  {"mark":{"type":"tick","color":"#111111","thickness":2,"size":18},
   "encoding":{"y":{"field":"sup","type":"quantitative","title":"valor del índiceı"}}},
  {"mark":{"type":"tick","color":"#111111","thickness":2,"size":18},
   "encoding":{"y":{"field":"inf","type":"quantitative","title":"valor del índiceı"}}}
 ]}
]
}
